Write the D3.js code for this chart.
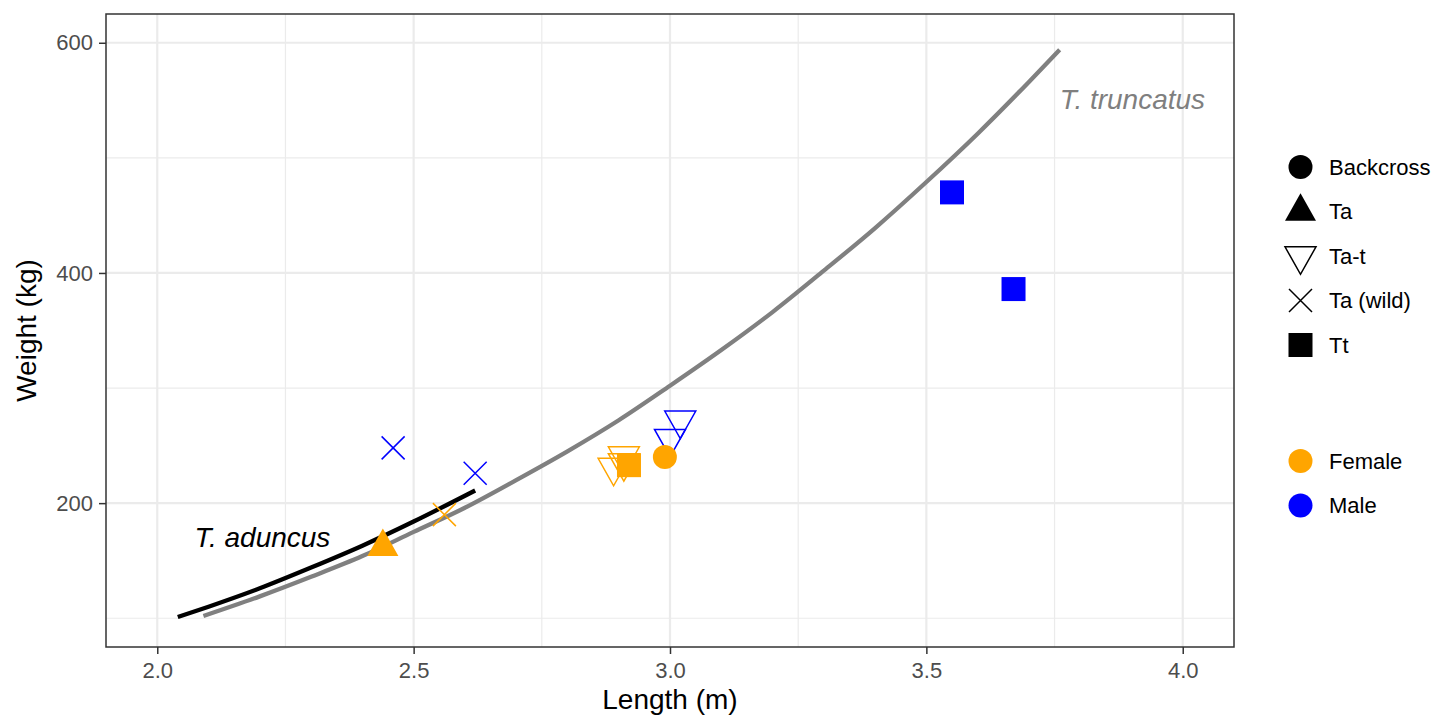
<!DOCTYPE html>
<html>
<head>
<meta charset="utf-8">
<script src="https://cdn.jsdelivr.net/npm/d3@7"></script>
<style>
  body { margin: 0; background: #fff; }
  text { font-family: "Liberation Sans", Arial, sans-serif; }
</style>
</head>
<body>
<div id="chart"></div>
<script>
// axis breaks
var lengthBreaks = [2.0, 2.5, 3.0, 3.5, 4.0]
var lengthMinor = [2.25, 2.75, 3.25, 3.75]
var weightBreaks = [200, 400, 600]
var weightMinor = [100, 300, 500]

// fitted curves
var truncatusLength = [2.09, 2.2, 2.3, 2.4, 2.5, 2.6, 2.7, 2.8, 2.9, 3.0, 3.1, 3.2, 3.3, 3.4, 3.5, 3.6, 3.7, 3.76]
var truncatusWeight = [102, 119, 136, 154, 175, 196, 220, 245, 272, 302, 333, 366, 402, 439, 479, 521, 566, 594]
var aduncusLength = [2.04, 2.1, 2.2, 2.3, 2.4, 2.5, 2.62]
var aduncusWeight = [101, 110, 126, 144, 163, 184, 211]

// individual animals
var ptLength = [2.46, 2.62, 2.56, 2.44, 2.89, 2.91, 2.91, 3.02, 3.00, 2.92, 3.55, 3.67, 2.99]
var ptWeight = [248, 226, 190, 162, 231, 241, 235, 272, 256, 233, 470, 386, 240]
var ptGroup = ["Ta (wild)", "Ta (wild)", "Ta (wild)", "Ta", "Ta-t", "Ta-t", "Ta-t", "Ta-t", "Ta-t", "Tt", "Tt", "Tt", "Backcross"]
var ptSex = ["Male", "Male", "Female", "Female", "Female", "Female", "Female", "Male", "Male", "Female", "Male", "Male", "Female"]

var groupLabels = ["Backcross", "Ta", "Ta-t", "Ta (wild)", "Tt"]
var sexLabels = ["Female", "Male"]
var sexColors = ["orange", "blue"]

var width = 1452, height = 717
var margin = {left: 106, right: 218, top: 14, bottom: 70}

var svg = d3.select("#chart").append("svg")
    .attr("width", width)
    .attr("height", height)

var x = d3.scaleLinear().domain([1.9, 4.1]).range([margin.left, width - margin.right])
var y = d3.scaleLinear().domain([75, 625]).range([height - margin.bottom, margin.top])
var colour = d3.scaleOrdinal().domain(sexLabels).range(sexColors)

var x0 = x.range()[0], x1 = x.range()[1]
var y0 = y.range()[0], y1 = y.range()[1]

// grid
var grid = svg.append("g")
grid.selectAll(".vminor").data(lengthMinor).enter().append("line")
    .attr("x1", d => x(d)).attr("x2", d => x(d))
    .attr("y1", y1).attr("y2", y0)
    .attr("stroke", "#ebebeb").attr("stroke-width", 1.2)
grid.selectAll(".hminor").data(weightMinor).enter().append("line")
    .attr("x1", x0).attr("x2", x1)
    .attr("y1", d => y(d)).attr("y2", d => y(d))
    .attr("stroke", "#ebebeb").attr("stroke-width", 1.2)
grid.selectAll(".vmajor").data(lengthBreaks).enter().append("line")
    .attr("x1", d => x(d)).attr("x2", d => x(d))
    .attr("y1", y1).attr("y2", y0)
    .attr("stroke", "#ebebeb").attr("stroke-width", 2.2)
grid.selectAll(".hmajor").data(weightBreaks).enter().append("line")
    .attr("x1", x0).attr("x2", x1)
    .attr("y1", d => y(d)).attr("y2", d => y(d))
    .attr("stroke", "#ebebeb").attr("stroke-width", 2.2)

// curves
var line = d3.line().x(d => x(d[0])).y(d => y(d[1])).curve(d3.curveMonotoneX)
svg.append("path")
    .datum(truncatusLength.map((d, i) => [d, truncatusWeight[i]]))
    .attr("d", line)
    .attr("fill", "none").attr("stroke", "#808080").attr("stroke-width", 4.3)
svg.append("path")
    .datum(aduncusLength.map((d, i) => [d, aduncusWeight[i]]))
    .attr("d", line)
    .attr("fill", "none").attr("stroke", "black").attr("stroke-width", 4.3)

// shapes
function drawShape(g, group, col) {
    if (group == "Backcross") {
        g.append("circle").attr("r", 12).attr("fill", col)
    } else if (group == "Ta") {
        g.append("path").attr("d", "M0,-18.3L15.5,9.2L-15.5,9.2Z").attr("fill", col)
    } else if (group == "Ta-t") {
        g.append("path").attr("d", "M-15.5,-9.2L15.5,-9.2L0,18.3Z")
            .attr("fill", "none").attr("stroke", col).attr("stroke-width", 1.5)
    } else if (group == "Ta (wild)") {
        g.append("path").attr("d", "M-11.5,-11.5L11.5,11.5M-11.5,11.5L11.5,-11.5")
            .attr("fill", "none").attr("stroke", col).attr("stroke-width", 1.5)
    } else if (group == "Tt") {
        g.append("rect").attr("x", -12).attr("y", -12).attr("width", 24).attr("height", 24).attr("fill", col)
    }
}

var points = svg.append("g")
ptLength.forEach(function(d, i) {
    var g = points.append("g").attr("transform", "translate(" + x(d) + "," + y(ptWeight[i]) + ")")
    drawShape(g, ptGroup[i], colour(ptSex[i]))
})

// annotations
svg.append("text")
    .attr("x", x(2.205)).attr("y", y(170))
    .attr("dy", "0.35em")
    .attr("text-anchor", "middle")
    .attr("font-style", "italic")
    .attr("font-size", 28)
    .attr("fill", "black")
    .text("T. aduncus")
svg.append("text")
    .attr("x", x(3.902)).attr("y", y(551))
    .attr("dy", "0.35em")
    .attr("text-anchor", "middle")
    .attr("font-style", "italic")
    .attr("font-size", 28)
    .attr("fill", "#7f7f7f")
    .text("T. truncatus")

// panel border
svg.append("rect")
    .attr("x", x0).attr("y", y1)
    .attr("width", x1 - x0).attr("height", y0 - y1)
    .attr("fill", "none").attr("stroke", "#333333").attr("stroke-width", 1.5)

// axes
var xAxis = svg.append("g")
    .attr("transform", "translate(0," + y0 + ")")
    .call(d3.axisBottom(x).tickValues(lengthBreaks).tickFormat(d3.format(".1f")).tickSize(7).tickPadding(8))
var yAxis = svg.append("g")
    .attr("transform", "translate(" + x0 + ",0)")
    .call(d3.axisLeft(y).tickValues(weightBreaks).tickSize(7).tickPadding(6))
;[xAxis, yAxis].forEach(function(a) {
    a.select(".domain").remove()
    a.selectAll(".tick line").attr("stroke", "#333333").attr("stroke-width", 1.5)
    a.selectAll(".tick text")
        .attr("fill", "#4d4d4d")
        .attr("font-size", 22)
        .style("font-family", "Liberation Sans, Arial, sans-serif")
})

svg.append("text")
    .attr("x", (x0 + x1) / 2).attr("y", 709)
    .attr("text-anchor", "middle")
    .attr("font-size", 28)
    .attr("fill", "black")
    .text("Length (m)")
svg.append("text")
    .attr("transform", "translate(36," + (y0 + y1) / 2 + ") rotate(-90)")
    .attr("text-anchor", "middle")
    .attr("font-size", 28)
    .attr("fill", "black")
    .text("Weight (kg)")

// legends
var legendX = 1300.5
var shapeLegend = svg.append("g")
groupLabels.forEach(function(d, i) {
    var cy = 167 + i * 44.5
    var g = shapeLegend.append("g").attr("transform", "translate(" + legendX + "," + cy + ")")
    drawShape(g, d, "black")
    shapeLegend.append("text")
        .attr("x", 1329).attr("y", cy)
        .attr("dy", "0.35em")
        .attr("font-size", 22)
        .attr("fill", "black")
        .text(d)
})
var sexLegend = svg.append("g")
sexLabels.forEach(function(d, i) {
    var cy = 461 + i * 44.5
    sexLegend.append("circle")
        .attr("cx", legendX).attr("cy", cy).attr("r", 12)
        .attr("fill", colour(d))
    sexLegend.append("text")
        .attr("x", 1329).attr("y", cy)
        .attr("dy", "0.35em")
        .attr("font-size", 22)
        .attr("fill", "black")
        .text(d)
})
</script>
</body>
</html>
